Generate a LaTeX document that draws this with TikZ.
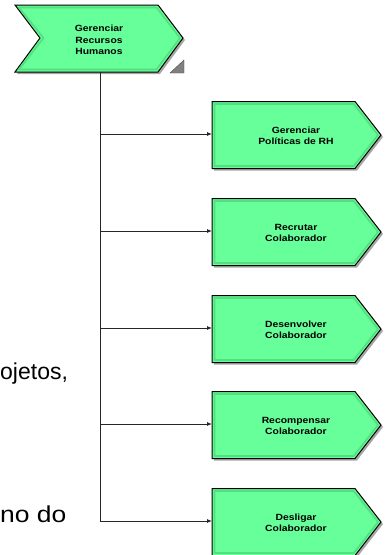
\documentclass[tikz,border=0pt]{standalone}
\usepackage{fontspec}
\setmainfont{Liberation Sans}
\newfontfamily\boxfont[FakeStretch=1.15]{Liberation Sans}
\usetikzlibrary{arrows.meta}

\definecolor{procgreen}{RGB}{102,255,153}
\definecolor{procedge}{RGB}{84,222,128}

\tikzset{
    procshape/.style={fill=procgreen, draw=black, line width=1pt, line join=miter},
    procbevel/.style={draw=procedge, line width=1.6pt, line join=miter},
    procshadow/.style={fill=black!35, draw=none},
    proctext/.style={font=\boxfont\bfseries\fontsize{9}{11.5}\selectfont,
        align=center, inner sep=0pt},
    branch/.style={draw=black!85, line width=0.8pt,
        -{Latex[length=5pt,width=4pt]}},
    bgtext/.style={font=\fontsize{23}{27}\selectfont, inner sep=0pt}
}

\begin{document}
\begin{tikzpicture}[x=1pt, y=-1pt]
    \useasboundingbox (0, 0) rectangle (388, 555);

    \pgfmathsetmacro\left{212};
    \pgfmathsetmacro\notch{355};
    \pgfmathsetmacro\tip{381};

    % main process
    \fill[procshadow] (17, 7) -- (160, 7) -- (185, 40) -- (160, 74)
        -- (17, 74) -- (42, 40) -- cycle;
    \draw[procshape] (15, 5) -- (158, 5) -- (183, 38) -- (158, 72)
        -- (15, 72) -- (40, 38) -- cycle;
    \draw[procbevel] (19, 7.5) -- (156.5, 7.5) -- (180, 38) -- (156.5, 69.5)
        -- (19, 69.5) -- (43.5, 38) -- cycle;
    \node[proctext] (main) at (99, 40) {Gerenciar\\Recursos\\Humanos};
    \draw[fill=black!50, draw=black!70] (170, 73) -- (184, 73) -- (184, 60) -- cycle;
    \coordinate (trunk) at (100, 72);

    \foreach \i/\y/\txt in {1/134/{Gerenciar\\Políticas de RH},
        2/231/{Recrutar\\Colaborador}, 3/328/{Desenvolver\\Colaborador},
        4/424/{Recompensar\\Colaborador}, 5/521/{Desligar\\Colaborador}} {

        \fill[procshadow] (\left + 2, \y - 30.5) -- (\notch + 2, \y - 30.5)
            -- (\tip + 2, \y + 3) -- (\notch + 2, \y + 36.5)
            -- (\left + 2, \y + 36.5) -- cycle;
        \draw[procshape] (\left, \y - 32.5) -- (\notch, \y - 32.5)
            -- (\tip, \y + 1) -- (\notch, \y + 34.5)
            -- (\left, \y + 34.5) -- cycle;
        \draw[procbevel] (\left + 2.5, \y - 30) -- (\notch - 1.2, \y - 30)
            -- (\tip - 3, \y + 1) -- (\notch - 1.2, \y + 32)
            -- (\left + 2.5, \y + 32) -- cycle;
        \node[proctext] (proc\i) at (296, \y + 2) {\txt};

        \coordinate (fork\i) at (100, \y);
        \coordinate (in\i) at (\left, \y);
        \draw[branch] (fork\i) -- (in\i);
    }

    \draw[black!85, line width=0.8pt] (trunk) -- (fork5);

    % text of the page behind the diagram
    \node[bgtext, anchor=base west] (frag1) at (0, 379) {ojetos,};
    \node[bgtext, anchor=base west] (frag2) at (0, 522) {\scalebox{1.15}[1]{no do}};
\end{tikzpicture}
\end{document}
